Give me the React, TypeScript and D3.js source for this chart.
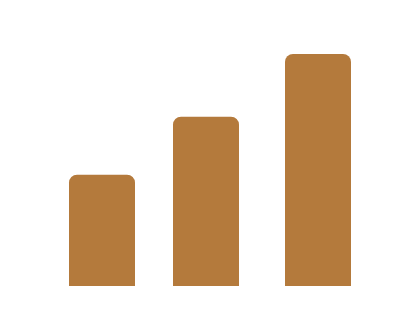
import React from "react";
import * as d3 from "d3";

const positions = [0, 13, 27];
const values = [4.8, 7.3, 10];

const W = 417;
const H = 327;
const BAR_W = 66;
const R = 8;

function topRoundedRect(x: number, y: number, w: number, h: number, r: number) {
  const p = d3.path();
  p.moveTo(x, y + h);
  p.lineTo(x, y + r);
  p.arcTo(x, y, x + r, y, r);
  p.lineTo(x + w - r, y);
  p.arcTo(x + w, y, x + w, y + r, r);
  p.lineTo(x + w, y + h);
  p.closePath();
  return p.toString();
}

export default function App() {
  const x = d3.scaleLinear().domain([0, 27]).range([102, 318]);
  const y = d3.scaleLinear().domain([0, 10]).range([286, 54]);
  return (
    <svg
      width={W}
      height={H}
      style={{ display: "block", position: "fixed", left: 0, top: 0 }}
    >
      {values.map((v, i) => {
        const cx = x(positions[i]);
        const top = y(v);
        return (
          <path
            key={i}
            d={topRoundedRect(cx - BAR_W / 2, top, BAR_W, y(0) - top, R)}
            fill="#b47a3c"
          />
        );
      })}
    </svg>
  );
}
